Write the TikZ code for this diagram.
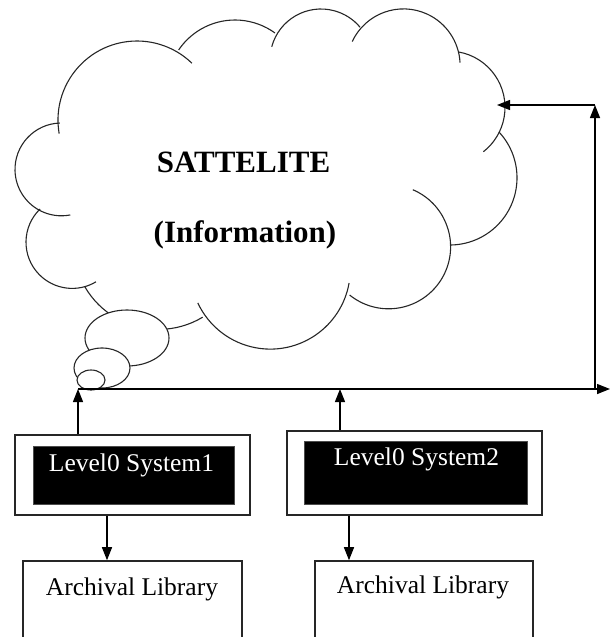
\documentclass[tikz,border=0pt]{standalone}
\usepackage{fontspec}
\setmainfont{Liberation Serif}
\usetikzlibrary{arrows.meta}

\begin{document}
\begin{tikzpicture}[x=1pt, y=1pt,
    puff/.style={line width=1.1pt, draw=black!85},
    bubble/.style={line width=1.1pt, draw=black!85, fill=white},
    flow/.style={line width=1.4pt, -{Triangle[length=13pt,width=10pt]}},
    sysbox/.style={draw=black!85, line width=1.6pt, fill=white,
      minimum width=235pt, minimum height=80pt, inner sep=0pt},
    syscore/.style={fill=black, draw=black!70, line width=0.6pt, inner sep=0pt},
    systext/.style={anchor=base, text=white, inner sep=0pt,
      font=\fontsize{25.5}{30}\selectfont},
    libbox/.style={draw=black!85, line width=1.6pt, fill=white,
      minimum width=219pt, minimum height=84pt, inner sep=0pt},
    libtext/.style={anchor=base, inner sep=0pt,
      font=\fontsize{25.5}{30}\selectfont},
    cloudtext/.style={anchor=base, inner sep=0pt,
      font=\fontsize{31}{36}\selectfont\bfseries}
    ]
    \useasboundingbox (0,0) rectangle (611,-637);

    % cloud outline, one arc per puff
    \foreach \cx/\cy/\r/\a/\b in {137/-120/79/190/46, 235/-88/68/146/54,
        321/-60/51/165/40, 403.5/-65.5/56.6/155/3, 448.7/-107.4/56.3/80/-52,
        449.8/-177.8/67.2/43/-90, 388.6/-246.8/62/67/-129,
        270.3/-269.1/80/-10/-155, 158.7/-244.1/85.3/210/301,
        72.2/-242.2/46.2/134/301, 61.4/-169.4/46.4/92/281}
      \draw[puff] (\cx,\cy) ++(\a:\r) arc[start angle=\a, end angle=\b, radius=\r];

    % callout bubbles
    \draw[bubble] (127,-338) ellipse[x radius=42, y radius=28];
    \draw[bubble] (102,-368) ellipse[x radius=28, y radius=20];
    \draw[bubble] (91,-380) ellipse[x radius=14, y radius=10];

    \node[cloudtext] (sat) at (243.5,-172.7) {SATTELITE};
    \node[cloudtext] (info) at (245,-242.7) {(Information)};

    % level 0 systems
    \node[sysbox] (sys1) at (132.5,-475) {};
    \node[syscore, minimum width=201pt, minimum height=58pt] (core1) at (133.5,-475) {};
    \node[systext] (name1) at (131.5,-471.7) {Level0 System1};
    \node[sysbox, minimum width=255pt, minimum height=84pt] (sys2) at (414.5,-473) {};
    \node[syscore, minimum width=223pt, minimum height=63pt] (core2) at (415.5,-472.5) {};
    \node[systext] (name2) at (416.5,-465) {Level0 System2};

    % libraries
    \node[libbox] (lib1) at (132.5,-603) {};
    \node[libtext] (libname1) at (132,-595) {Archival Library};
    \node[libbox, minimum width=218pt] (lib2) at (424,-603) {};
    \node[libtext] (libname2) at (423,-593) {Archival Library};

    % links
    \coordinate (busW) at (78,-389);
    \coordinate (busM) at (340,-389);
    \coordinate (busE) at (610,-389);
    \coordinate (riser) at (595,-389);
    \coordinate (riserTop) at (595,-105);
    \coordinate (cloudIn) at (497,-105);
    \draw[flow] (sys1.north -| busW) -- (busW);
    \draw[flow] (sys2.north -| busM) -- (busM);
    \draw[flow] (busW) -- (busE);
    \draw[flow] (riser) -- (riserTop);
    \draw[flow] (riserTop) -- (cloudIn);
    \coordinate (drop1) at ([xshift=-25.5pt]sys1.south);
    \coordinate (drop2) at ([xshift=-65.5pt]sys2.south);
    \draw[flow] (drop1) -- (drop1 |- lib1.north);
    \draw[flow] (drop2) -- (drop2 |- lib2.north);
  \end{tikzpicture}
\end{document}
